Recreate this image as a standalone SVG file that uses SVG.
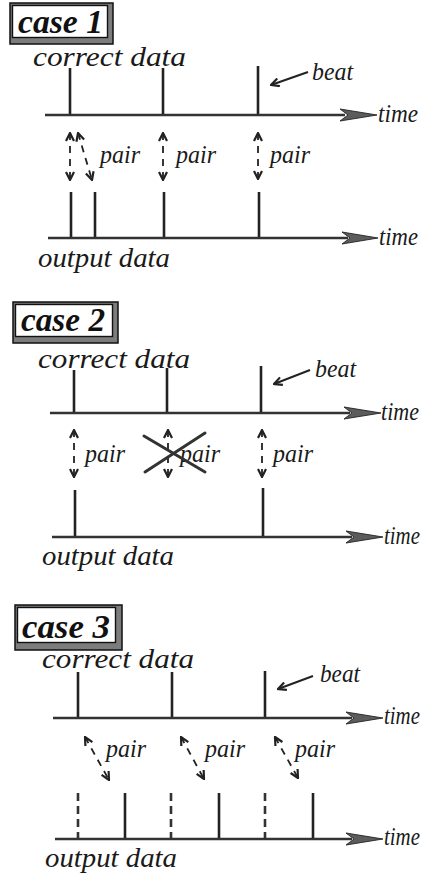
<svg xmlns="http://www.w3.org/2000/svg" width="428" height="876" viewBox="0 0 428 876">
  <style>
    .lbl { font-family: "Liberation Serif", "DejaVu Serif", serif; font-style: italic; font-size: 26px; fill: #1a1a1a; }
    .big { font-size: 28px; }
    .ttl { font-family: "Liberation Serif", "DejaVu Serif", serif; font-style: italic; font-weight: bold; font-size: 33px; fill: #111; }
    .frame { fill: #7c7c7c; stroke: #111; stroke-width: 1.5; }
    .face { fill: #fff; stroke: #111; stroke-width: 1.4; }
    .beat { stroke: #222; stroke-width: 2.6; }
    .ghost { stroke: #333; stroke-width: 2.6; stroke-dasharray: 8 5; }
    .axis { stroke: #333; stroke-width: 2.6; }
    .head { fill: #5c5c5c; stroke: #222; stroke-width: 0.9; }
    .pair { stroke: #222; stroke-width: 1.8; stroke-dasharray: 7 6; fill: none; marker-start: url(#chev); marker-end: url(#chev); }
    .ptr { stroke: #222; stroke-width: 2; fill: none; marker-end: url(#chev); }
    .cross { stroke: #333; stroke-width: 3; stroke-linecap: round; }
  </style>
  <defs>
    <marker id="chev" viewBox="0 0 10 10" refX="9" refY="5" markerWidth="10" markerHeight="10" markerUnits="userSpaceOnUse" orient="auto-start-reverse">
      <path d="M1,1 L9,5 L1,9" fill="none" stroke="#222" stroke-width="2.2" stroke-dasharray="none"/>
    </marker>
  </defs>

  <!-- ===== case 1 ===== -->
  <g id="case1-title">
    <rect class="frame" x="10" y="3" width="103" height="41"/>
    <rect class="face" x="12.5" y="5.5" width="95" height="32"/>
    <text class="ttl" x="18" y="33" textLength="85" lengthAdjust="spacingAndGlyphs">case 1</text>
  </g>
  <g id="case1-correct">
    <text class="lbl big" x="33" y="66" textLength="153" lengthAdjust="spacingAndGlyphs">correct data</text>
    <line class="beat" x1="70" y1="68" x2="70" y2="115"/>
    <line class="beat" x1="163" y1="68" x2="163" y2="115"/>
    <line class="beat" x1="258" y1="66" x2="258" y2="115"/>
    <line class="axis" x1="45" y1="115" x2="345" y2="115"/>
    <polygon class="head" points="377,115 340,109 348,115 340,121"/>
    <text class="lbl" x="378" y="122" textLength="40" lengthAdjust="spacingAndGlyphs">time</text>
    <text class="lbl" x="312" y="80" textLength="41" lengthAdjust="spacingAndGlyphs">beat</text>
  </g>
  <g id="case1-output">
    <line class="beat" x1="71" y1="192" x2="71" y2="238"/>
    <line class="beat" x1="95" y1="192" x2="95" y2="238"/>
    <line class="beat" x1="164" y1="192" x2="164" y2="238"/>
    <line class="beat" x1="259" y1="192" x2="259" y2="238"/>
    <line class="axis" x1="48" y1="238" x2="348" y2="238"/>
    <polygon class="head" points="378,238 342,232 350,238 342,244"/>
    <text class="lbl" x="379" y="245" textLength="39" lengthAdjust="spacingAndGlyphs">time</text>
    <text class="lbl big" x="38" y="267" textLength="132" lengthAdjust="spacingAndGlyphs">output data</text>
  </g>
  <g id="case1-links">
    <line class="ptr" x1="308" y1="72" x2="271" y2="85"/>
    <line class="pair" x1="70" y1="133" x2="70" y2="180"/>
    <line class="pair" x1="78" y1="133" x2="92" y2="180"/>
    <line class="pair" x1="163" y1="133" x2="163" y2="180"/>
    <line class="pair" x1="258" y1="133" x2="258" y2="179"/>
    <text class="lbl" x="100" y="163" textLength="40" lengthAdjust="spacingAndGlyphs">pair</text>
    <text class="lbl" x="176" y="163" textLength="40" lengthAdjust="spacingAndGlyphs">pair</text>
    <text class="lbl" x="270" y="163" textLength="40" lengthAdjust="spacingAndGlyphs">pair</text>
  </g>

  <!-- ===== case 2 ===== -->
  <g id="case2-title">
    <rect class="frame" x="13" y="302" width="105" height="41"/>
    <rect class="face" x="15.5" y="304.5" width="97" height="32"/>
    <text class="ttl" x="21" y="331" textLength="84" lengthAdjust="spacingAndGlyphs">case 2</text>
  </g>
  <g id="case2-correct">
    <text class="lbl big" x="38" y="368" textLength="152" lengthAdjust="spacingAndGlyphs">correct data</text>
    <line class="beat" x1="74" y1="370" x2="74" y2="413"/>
    <line class="beat" x1="167" y1="368" x2="167" y2="413"/>
    <line class="beat" x1="261" y1="366" x2="261" y2="413"/>
    <line class="axis" x1="50" y1="413" x2="350" y2="413"/>
    <polygon class="head" points="381,413 344,407 352,413 344,419"/>
    <text class="lbl" x="381" y="420" textLength="38" lengthAdjust="spacingAndGlyphs">time</text>
    <text class="lbl" x="315" y="377" textLength="41" lengthAdjust="spacingAndGlyphs">beat</text>
  </g>
  <g id="case2-output">
    <line class="beat" x1="75" y1="490" x2="75" y2="537"/>
    <line class="beat" x1="263" y1="488" x2="263" y2="537"/>
    <line class="axis" x1="52" y1="537" x2="352" y2="537"/>
    <polygon class="head" points="383,537 346,531 354,537 346,543"/>
    <text class="lbl" x="384" y="544" textLength="36" lengthAdjust="spacingAndGlyphs">time</text>
    <text class="lbl big" x="42" y="565" textLength="132" lengthAdjust="spacingAndGlyphs">output data</text>
  </g>
  <g id="case2-links">
    <line class="ptr" x1="310" y1="370" x2="274" y2="384"/>
    <line class="pair" x1="74" y1="430" x2="74" y2="477"/>
    <line class="pair" x1="168" y1="430" x2="168" y2="477"/>
    <line class="pair" x1="262" y1="430" x2="262" y2="477"/>
    <text class="lbl" x="85" y="462" textLength="40" lengthAdjust="spacingAndGlyphs">pair</text>
    <text class="lbl" x="180" y="462" textLength="40" lengthAdjust="spacingAndGlyphs">pair</text>
    <text class="lbl" x="273" y="462" textLength="40" lengthAdjust="spacingAndGlyphs">pair</text>
    <line class="cross" x1="144" y1="436" x2="205" y2="472"/>
    <line class="cross" x1="145" y1="472" x2="205" y2="433"/>
  </g>

  <!-- ===== case 3 ===== -->
  <g id="case3-title">
    <rect class="frame" x="15" y="605" width="107" height="45"/>
    <rect class="face" x="17.5" y="607.5" width="98" height="35"/>
    <text class="ttl" x="22" y="638" textLength="88" lengthAdjust="spacingAndGlyphs">case 3</text>
  </g>
  <g id="case3-correct">
    <text class="lbl big" x="42" y="668" textLength="152" lengthAdjust="spacingAndGlyphs">correct data</text>
    <line class="beat" x1="78" y1="672" x2="78" y2="718"/>
    <line class="beat" x1="172" y1="672" x2="172" y2="718"/>
    <line class="beat" x1="265" y1="671" x2="265" y2="718"/>
    <line class="axis" x1="53" y1="718" x2="352" y2="718"/>
    <polygon class="head" points="383,718 346,712 354,718 346,724"/>
    <text class="lbl" x="384" y="724" textLength="36" lengthAdjust="spacingAndGlyphs">time</text>
    <text class="lbl" x="320" y="682" textLength="40" lengthAdjust="spacingAndGlyphs">beat</text>
  </g>
  <g id="case3-output">
    <line class="ghost" x1="78" y1="793" x2="78" y2="839"/>
    <line class="beat" x1="125" y1="793" x2="125" y2="839"/>
    <line class="ghost" x1="171" y1="793" x2="171" y2="839"/>
    <line class="beat" x1="219" y1="793" x2="219" y2="839"/>
    <line class="ghost" x1="265" y1="793" x2="265" y2="839"/>
    <line class="beat" x1="313" y1="793" x2="313" y2="839"/>
    <line class="axis" x1="55" y1="839" x2="352" y2="839"/>
    <polygon class="head" points="383,839 346,833 354,839 346,845"/>
    <text class="lbl" x="384" y="845" textLength="36" lengthAdjust="spacingAndGlyphs">time</text>
    <text class="lbl big" x="45" y="867" textLength="132" lengthAdjust="spacingAndGlyphs">output data</text>
  </g>
  <g id="case3-links">
    <line class="ptr" x1="313" y1="676" x2="278" y2="689"/>
    <line class="pair" x1="85" y1="737" x2="109" y2="780"/>
    <line class="pair" x1="181" y1="737" x2="204" y2="779"/>
    <line class="pair" x1="275" y1="737" x2="298" y2="778"/>
    <text class="lbl" x="106" y="757" textLength="40" lengthAdjust="spacingAndGlyphs">pair</text>
    <text class="lbl" x="205" y="757" textLength="40" lengthAdjust="spacingAndGlyphs">pair</text>
    <text class="lbl" x="295" y="757" textLength="40" lengthAdjust="spacingAndGlyphs">pair</text>
  </g>
</svg>
